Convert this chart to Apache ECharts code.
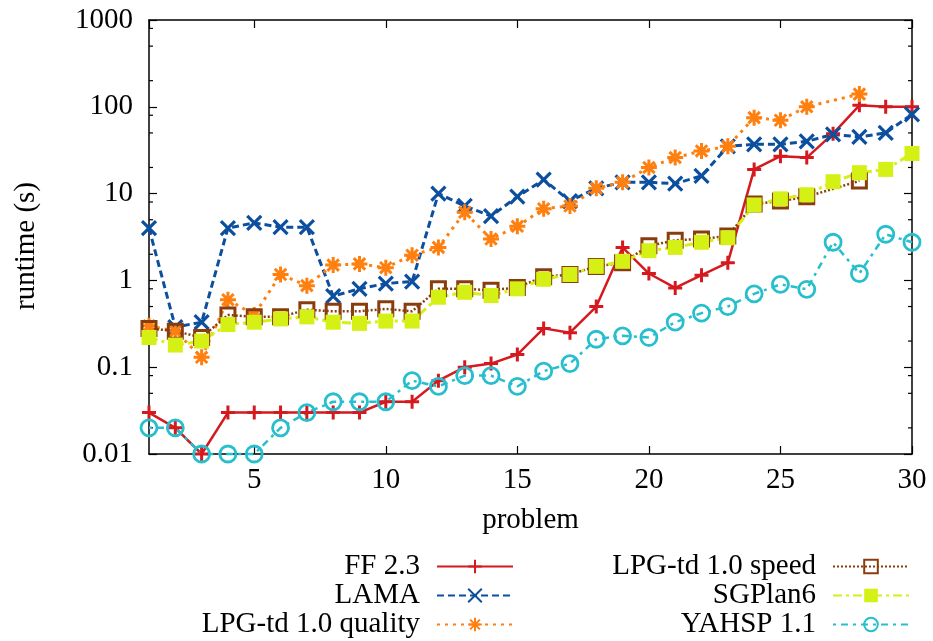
<!DOCTYPE html>
<html>
<head>
<meta charset="utf-8">
<script src="https://cdn.jsdelivr.net/npm/echarts@6/dist/echarts.min.js"></script>
<style>
    html, body { margin: 0; padding: 0; background: #fff; }
    #mainChart { width: 933px; height: 641px; }
</style>
</head>
<body>
<div id="mainChart"></div>
<script>
// problem numbers 1..30
var problems = [1, 2, 3, 4, 5, 6, 7, 8, 9, 10, 11, 12, 13, 14, 15, 16, 17, 18, 19, 20, 21, 22, 23, 24, 25, 26, 27, 28, 29, 30];

// runtimes in seconds, null = not solved
var ff23 = [0.03, 0.02, 0.01, 0.03, 0.03, 0.03, 0.03, 0.03, 0.03, 0.04, 0.04, 0.07, 0.1, 0.11, 0.14, 0.28, 0.25, 0.5, 2.4, 1.2, 0.82, 1.15, 1.6, 19, 27, 26, 49, 104, 100, 100];
var lama = [4.0, 0.29, 0.33, 4.0, 4.6, 4.1, 4.1, 0.66, 0.8, 0.92, 0.97, 10, 7.2, 5.5, 9.2, 14.5, 8.2, 11.5, 13.5, 13.5, 13, 16, 35, 37, 37, 40, 48, 45, 50, 82];
var lpgQuality = [0.3, 0.26, 0.13, 0.6, 0.4, 1.17, 0.87, 1.5, 1.55, 1.4, 1.95, 2.4, 6.1, 3.0, 4.2, 6.7, 7.2, 11.5, 13.5, 20, 26, 31, 35, 75, 70, 100, null, 140, null, null];
var lpgSpeed = [0.28, 0.26, 0.22, 0.40, 0.38, 0.38, 0.46, 0.44, 0.44, 0.47, 0.44, 0.8, 0.8, 0.77, 0.83, 1.1, 1.17, 1.45, 1.6, 2.5, 2.9, 3.0, 3.25, 7.6, 8.2, 9.2, null, 14, null, null];
var sgplan6 = [0.22, 0.18, 0.2, 0.31, 0.33, 0.36, 0.38, 0.33, 0.32, 0.34, 0.34, 0.64, 0.73, 0.67, 0.8, 1.03, 1.17, 1.45, 1.66, 2.2, 2.4, 2.75, 3.1, 7.4, 8.7, 9.7, 13.7, 17.4, 19, 29];
var yahsp = [0.02, 0.02, 0.01, 0.01, 0.01, 0.02, 0.03, 0.04, 0.04, 0.04, 0.07, 0.06, 0.08, 0.08, 0.06, 0.09, 0.11, 0.21, 0.23, 0.22, 0.33, 0.42, 0.5, 0.7, 0.9, 0.79, 2.75, 1.2, 3.4, 2.75];

// y axis labels and the small log ticks (2, 5, 8 per decade)
var yTickLabels = ['0.01', '0.1', '1', '10', '100', '1000'];
var yMinorTicks = [0.02, 0.05, 0.08, 0.2, 0.5, 0.8, 2, 5, 8, 20, 50, 80, 200, 500, 800];

var FONT = 'Liberation Serif';
var pair = arr => problems.map((p, i) => [p, arr[i]]);

var PLUS = 'path://M0,-7V7M-7,0H7';
var CROSS = 'path://M-7,-7L7,7M-7,7L7,-7';
var STAR = 'path://M0,-7V7M-7,0H7M-5,-5L5,5M-5,5L5,-5';

function lineSeries(name, data, color, dash, width, symbol, size, filled, border)
{
    return {
        name: name,
        type: 'line',
        data: pair(data),
        connectNulls: true,
        clip: false,
        symbol: symbol,
        symbolSize: size,
        showAllSymbol: true,
        lineStyle: { color: color, width: width, type: dash },
        itemStyle: filled
            ? { color: color, borderWidth: 0 }
            : { color: 'none', borderColor: color, borderWidth: border },
        emphasis: { disabled: true },
        z: 3
    };
}

var chart = echarts.init(document.getElementById('mainChart'), null, { renderer: 'canvas' });

var axisBase = {
    axisLine: { show: true, onZero: false, lineStyle: { color: '#000', width: 1.5 } },
    axisTick: { show: true, inside: true, length: 8, lineStyle: { color: '#000', width: 1.2 } },
    splitLine: { show: false }
};

var legendBase = {
    orient: 'vertical',
    align: 'right',
    padding: 0,
    itemGap: 0,
    itemWidth: 76,
    itemHeight: 17,
    selectedMode: false,
    textStyle: { fontFamily: FONT, fontSize: 29, color: '#000', lineHeight: 27, padding: [0, 12, 0, 0] }
};

var option = {
    animation: false,
    backgroundColor: '#fff',
    grid: { left: 149, right: 21, top: 20, bottom: 187 },
    xAxis: [
        Object.assign({}, axisBase, {
            type: 'value',
            min: 1,
            max: 30,
            position: 'bottom',
            name: 'problem',
            nameLocation: 'middle',
            nameGap: 52,
            nameTextStyle: { fontFamily: FONT, fontSize: 29, color: '#000' },
            axisLabel: { show: true, showMinLabel: false, margin: 12, fontFamily: FONT, fontSize: 29, color: '#000' }
        }),
        Object.assign({}, axisBase, {
            type: 'value',
            min: 1,
            max: 30,
            position: 'top',
            axisLabel: { show: false }
        })
    ],
    yAxis: [
        Object.assign({}, axisBase, {
            type: 'log',
            logBase: 10,
            min: 0.01,
            max: 1000,
            position: 'left',
            name: 'runtime (s)',
            nameLocation: 'middle',
            nameGap: 108,
            nameTextStyle: { fontFamily: FONT, fontSize: 29, color: '#000', padding: [0, 18, 0, 0] },
            axisLabel: {
                margin: 16,
                fontFamily: FONT,
                fontSize: 29,
                color: '#000',
                formatter: v => yTickLabels[Math.round(Math.log10(v)) + 2]
            }
        }),
        Object.assign({}, axisBase, {
            type: 'log',
            logBase: 10,
            min: 0.01,
            max: 1000,
            position: 'right',
            axisLabel: { show: false }
        })
    ],
    legend: [
        Object.assign({}, legendBase, {
            right: 419,
            top: 552,
            data: ['FF 2.3', 'LAMA', 'LPG-td 1.0 quality']
        }),
        Object.assign({}, legendBase, {
            right: 23,
            top: 552,
            data: ['LPG-td 1.0 speed', 'SGPlan6', 'YAHSP 1.1']
        })
    ],
    series: [
        lineSeries('FF 2.3', ff23, '#d41a1f', 'solid', 2.5, PLUS, 14, false, 3),
        lineSeries('LAMA', lama, '#0c4f9f', [7, 4], 3, CROSS, 14, false, 3.2),
        lineSeries('LPG-td 1.0 quality', lpgQuality, '#ff7f0f', [3, 5], 3, STAR, 16, false, 3),
        lineSeries('LPG-td 1.0 speed', lpgSpeed, '#8a3d0c', [2, 2], 2.5, 'rect', 14, false, 3),
        lineSeries('SGPlan6', sgplan6, '#d5f014', [9, 4, 3, 4], 3, 'rect', 15, true, 0),
        lineSeries('YAHSP 1.1', yahsp, '#27bfcd', [3, 5, 7, 5], 2.5, 'circle', 16, false, 2.8),
        {
            // minor log ticks on the left and right frame
            type: 'custom',
            silent: true,
            clip: false,
            data: yMinorTicks.map(v => [1, v]),
            encode: { x: 0, y: 1 },
            renderItem: function(params, api)
            {
                var y = api.coord([1, api.value(1)])[1];
                var cs = params.coordSys;
                var st = { stroke: '#000', lineWidth: 1.2 };
                return {
                    type: 'group',
                    children: [
                        { type: 'line', shape: { x1: cs.x, y1: y, x2: cs.x + 4, y2: y }, style: st },
                        { type: 'line', shape: { x1: cs.x + cs.width, y1: y, x2: cs.x + cs.width - 4, y2: y }, style: st }
                    ]
                };
            },
            z: 1
        }
    ]
};

chart.setOption(option);
</script>
</body>
</html>
